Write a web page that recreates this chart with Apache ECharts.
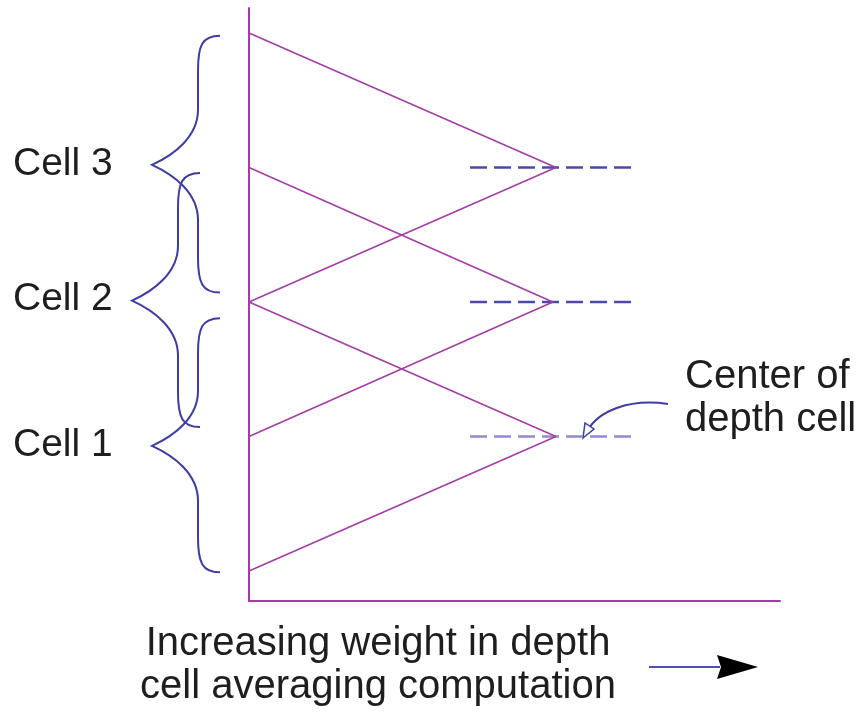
<!DOCTYPE html>
<html><head><meta charset="utf-8">
<script src="https://cdn.jsdelivr.net/npm/echarts@6/dist/echarts.min.js"></script>
<style>html,body{margin:0;padding:0;background:#fff}#c{width:859px;height:713px}</style>
</head><body><div id="c"></div>
<script>
// ---- data (depth in cell units, weight relative to peak) ----
const cellNames = ['Cell 1', 'Cell 2', 'Cell 3'];
const cellCenters = [1, 2, 3];
const peakWeights = [1.0, 0.99, 1.0];
const cellHalfSpan = [1, 1, 1];
const dashFrom = [0.72, 0.72, 0.72];
const dashTo = [1.25, 1.25, 1.25];
const braceTop = [1.88, 2.96, 3.98];
const braceMid = [0.93, 2.01, 3.02];
const braceBottom = [-0.01, 1.07, 2.07];
const xRange = [0, 1.73];
const yRange = [-0.223, 4.186];
const annotationText = ['Center of', 'depth cell'];
const xTitle = ['Increasing weight in depth', 'cell averaging computation'];

// ---- styles ----
const PURPLE = '#a43ca6';
const BLUE = '#3c3ca4';
const DASH_COLORS = ['#8c8cd2', '#4a4aac', '#4a4aac'];
const FONT = '"Liberation Sans", Arial, Helvetica, sans-serif';
const braceShift = [0, -20, 0];

const chart = echarts.init(document.getElementById('c'));

const series = [];
cellCenters.forEach((c, i) => {
  series.push({
    type: 'line', symbol: 'none', z: 2, silent: true,
    data: [[dashFrom[i], c], [dashTo[i], c]],
    lineStyle: { color: DASH_COLORS[i], width: 2.5, type: [17, 7] }
  });
});
cellCenters.forEach((c, i) => {
  series.push({
    type: 'line', symbol: 'none', z: 3, silent: true,
    data: [[0, c - cellHalfSpan[i]], [peakWeights[i], c], [0, c + cellHalfSpan[i]]],
    lineStyle: { color: PURPLE, width: 1.5 }
  });
});
series.push({
  type: 'custom', clip: false, silent: true, z: 4,
  data: cellNames.map((n, i) => [0, braceTop[i], braceMid[i], braceBottom[i], i]),
  encode: { x: 0, y: [1, 2, 3] },
  renderItem: function (params, api) {
    const i = api.value(4);
    const ax = api.coord([0, 0])[0];
    const yT = api.coord([0, api.value(1)])[1];
    const yM = api.coord([0, api.value(2)])[1];
    const yB = api.coord([0, api.value(3)])[1];
    const s = braceShift[i];
    const end = ax - 29 + s, stem = ax - 51 + s, tip = ax - 97 + s;
    const d = [
      'M', end, yT,
      'C', stem + 4, yT, stem, yT + 10, stem, yT + 35,
      'L', stem, yM - 55,
      'C', stem, yM - 28, tip + 22, yM - 10, tip, yM,
      'C', tip + 22, yM + 10, stem, yM + 28, stem, yM + 55,
      'L', stem, yB - 35,
      'C', stem, yB - 10, stem + 4, yB, end, yB
    ].join(' ');
    return {
      type: 'group',
      children: [
        { type: 'path', shape: { pathData: d },
          style: { stroke: BLUE, fill: 'none', lineWidth: 2 } },
        { type: 'text',
          style: { text: cellNames[i], x: ax - 236, y: yM - 1,
                   font: '39px ' + FONT, fill: '#1e1e1e',
                   align: 'left', verticalAlign: 'middle' } }
      ]
    };
  }
});

chart.setOption({
  animation: false,
  backgroundColor: '#fff',
  grid: { left: 249, right: 79, top: 8, bottom: 112 },
  xAxis: {
    type: 'value', min: xRange[0], max: xRange[1],
    axisLine: { show: true, onZero: false, lineStyle: { color: PURPLE, width: 2 } },
    axisTick: { show: false }, axisLabel: { show: false }, splitLine: { show: false }
  },
  yAxis: {
    type: 'value', min: yRange[0], max: yRange[1],
    axisLine: { show: true, onZero: false, lineStyle: { color: PURPLE, width: 2 } },
    axisTick: { show: false }, axisLabel: { show: false }, splitLine: { show: false }
  },
  series: series,
  graphic: [
    { type: 'text', x: 685, y: 377,
      style: { text: annotationText[0], font: '40px ' + FONT, fill: '#1e1e1e', align: 'left', verticalAlign: 'middle' } },
    { type: 'text', x: 685, y: 420,
      style: { text: annotationText[1], font: '40px ' + FONT, fill: '#1e1e1e', align: 'left', verticalAlign: 'middle' } },
    { type: 'bezierCurve',
      shape: { x1: 668, y1: 404, x2: 588, y2: 430, cpx1: 628, cpy1: 398, cpx2: 598, cpy2: 412 },
      style: { stroke: BLUE, lineWidth: 2, fill: 'none' } },
    { type: 'polygon',
      shape: { points: [[583, 438], [594, 429], [585, 423]] },
      style: { stroke: BLUE, lineWidth: 1.5, fill: '#fff' } },
    { type: 'text', x: 378, y: 644,
      style: { text: xTitle[0], font: '40px ' + FONT, fill: '#1e1e1e', align: 'center', verticalAlign: 'middle' } },
    { type: 'text', x: 378, y: 687,
      style: { text: xTitle[1], font: '40px ' + FONT, fill: '#1e1e1e', align: 'center', verticalAlign: 'middle' } },
    { type: 'line', shape: { x1: 649, y1: 667, x2: 720, y2: 667 },
      style: { stroke: '#5050b0', lineWidth: 2 } },
    { type: 'polygon', shape: { points: [[717, 655], [758, 667], [717, 679], [721, 667]] },
      style: { fill: '#000' } }
  ]
});
</script>
</body></html>
